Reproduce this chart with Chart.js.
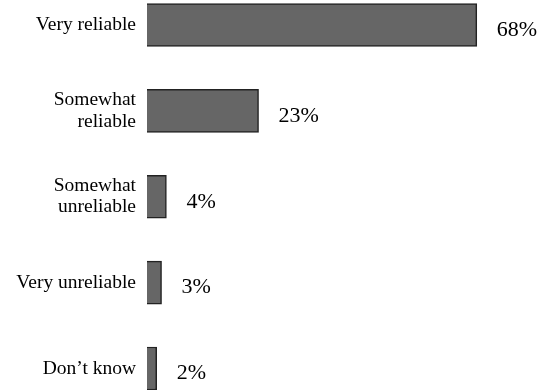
<!DOCTYPE html>
<html>
<head>
<meta charset="utf-8">
<script src="https://cdn.jsdelivr.net/npm/chart.js@4"></script>
<style>
  html, body { margin: 0; padding: 0; background: #fff; }
  canvas { display: block; }
</style>
</head>
<body>
<canvas id="chart" width="547" height="390"></canvas>
<script>
const categories = [
  'Very reliable',
  ['Somewhat', 'reliable'],
  ['Somewhat', 'unreliable'],
  'Very unreliable',
  'Don\u2019t know'
];
const shares = [68, 23, 4, 3, 2];
const valueLabels = ['68%', '23%', '4%', '3%', '2%'];

const serif = "'Liberation Serif', 'Times New Roman', serif";

// writes the percentage to the right of each bar
const barLabels = {
  id: 'barLabels',
  afterDatasetsDraw(chart) {
    const ctx = chart.ctx;
    const meta = chart.getDatasetMeta(0);
    ctx.save();
    ctx.font = '22px ' + serif;
    ctx.fillStyle = '#000';
    ctx.textAlign = 'left';
    ctx.textBaseline = 'middle';
    meta.data.forEach((bar, i) => {
      ctx.fillText(valueLabels[i], bar.x + 20, bar.y + 5);
    });
    ctx.restore();
  }
};

new Chart(document.getElementById('chart'), {
  type: 'bar',
  data: {
    labels: categories,
    datasets: [{
      data: shares,
      backgroundColor: '#666666',
      borderColor: '#222222',
      borderWidth: 1.5,
      barThickness: 43,
      clip: false
    }]
  },
  options: {
    indexAxis: 'y',
    responsive: false,
    animation: false,
    layout: { padding: { top: 25, bottom: 20.5, left: 0, right: 12 } },
    plugins: {
      legend: { display: false },
      tooltip: { enabled: false }
    },
    scales: {
      x: {
        display: false,
        min: 0,
        max: 80
      },
      y: {
        offset: false,
        grid: { display: false, offset: false, drawTicks: false, tickLength: 0 },
        border: { display: false },
        ticks: {
          color: '#000',
          padding: 11,
          font: { family: serif, size: 19.5, lineHeight: 1.08 }
        },
        afterFit(scale) { scale.width = 147; }
      }
    }
  },
  plugins: [barLabels]
});
</script>
</body>
</html>
